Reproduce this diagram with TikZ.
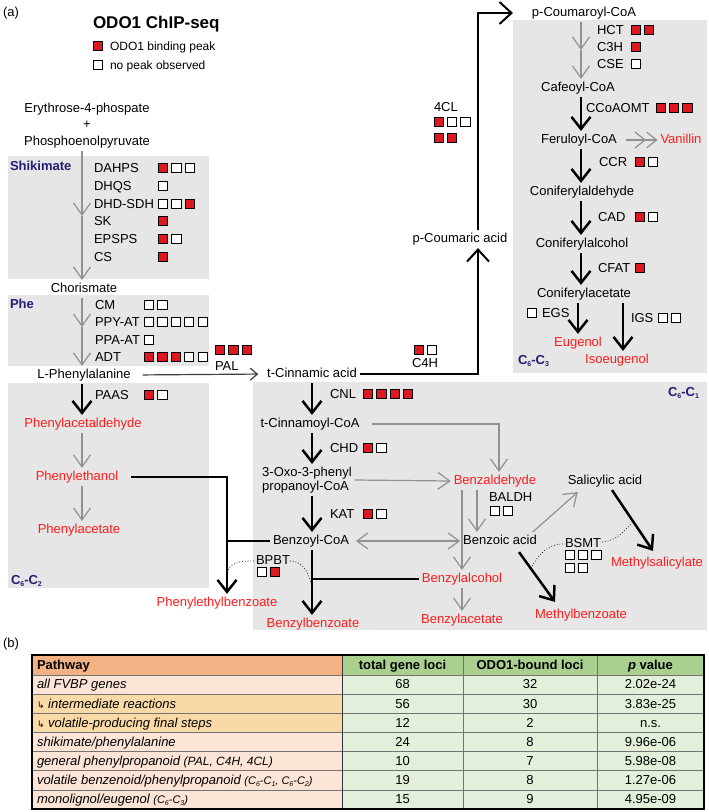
\documentclass[tikz,border=0pt]{standalone}
\usepackage{fontspec}
\setmainfont{Liberation Sans}
\newfontfamily\symfnt{DejaVu Sans}
\usetikzlibrary{arrows.meta,calc}
\definecolor{boxgray}{RGB}{230,230,230}
\definecolor{arrgray}{RGB}{145,145,145}
\definecolor{vred}{RGB}{255,28,28}
\definecolor{navy}{RGB}{35,31,115}
\definecolor{rr}{RGB}{222,24,32}
\definecolor{ww}{RGB}{255,255,255}
\definecolor{hdrorange}{RGB}{243,178,132}
\definecolor{peach}{RGB}{252,228,214}
\definecolor{tanrow}{RGB}{249,218,166}
\definecolor{hdrgreen}{RGB}{169,208,142}
\definecolor{lgreen}{RGB}{226,239,218}
\newcommand\sbs[1]{\raisebox{-0.3ex}{\fontsize{7}{8}\selectfont #1}}
\newcommand\sqrow[3]{\foreach \sqc [count=\sqk from 0] in {#3}{\filldraw[fill=\sqc, draw=black, line width=0.9pt] ({#1+\sqk*13.4-4.6},{#2-4.6}) rectangle +(9.2,9.2);}}
\tikzset{
  tx/.style={font=\fontsize{13}{15}\selectfont, inner sep=0pt, outer sep=0pt, text height=9.4pt, text depth=2.8pt},
  met/.style={tx, outer sep=3pt},
  redmet/.style={met, text=vred},
  enz/.style={tx, anchor=west},
  cat/.style={tx, font=\fontsize{13}{15}\selectfont\bfseries, text=navy, anchor=west},
  grayarr/.style={draw=arrgray, line width=1.2pt, -{Straight Barb[length=12pt,width=17pt]}},
  grayboth/.style={draw=arrgray, line width=1.2pt, {Straight Barb[length=11pt,width=16pt]}-{Straight Barb[length=11pt,width=16pt]}},
  vanarr/.style={draw=arrgray, line width=1.2pt, -{Straight Barb[length=10pt,width=16pt]Straight Barb[length=10pt,width=16pt]}},
  palarr/.style={draw=black!75, line width=1.2pt, -{Straight Barb[length=7pt,width=12pt]}},
  blkarr/.style={draw=black, line width=2.5pt, -{Straight Barb[length=12pt,width=19pt]}},
  blkline/.style={draw=black, line width=2.5pt},
  medarr/.style={draw=black, line width=2pt, -{Straight Barb[length=12pt,width=22pt]}},
  dotcurve/.style={draw=black!85, line width=0.8pt, dotted},
  tline/.style={draw=black!55, line width=0.7pt},
  tvline/.style={draw=black!80, line width=0.9pt},
  tborder/.style={draw=black, line width=1.1pt},
  th/.style={tx, font=\fontsize{13}{15}\selectfont\bfseries},
}
\begin{document}
\begin{tikzpicture}[x=1pt,y=-1pt]
\useasboundingbox (0,0) rectangle (709,812);
\fill[white] (0,0) rectangle (709,812);
% ---------- gray boxes
\fill[boxgray] (8,156) rectangle (209,279);
\fill[boxgray] (8,295) rectangle (209,366);
\fill[boxgray] (8,383) rectangle (209,588);
\fill[boxgray] (513,20) rectangle (707,373);
\fill[boxgray] (253,382) rectangle (707,630);
% ---------- legend
\node[tx,anchor=west] (alab) at (3,13) {(a)};
\node[tx,anchor=west,font=\fontsize{17}{20}\selectfont\bfseries,text height=12.3pt,text depth=3.6pt] (title) at (93,24) {ODO1 ChIP-seq};
\sqrow{97.6}{46}{rr}
\node[tx,anchor=west,font=\fontsize{12}{14}\selectfont] (lg1) at (110,47) {ODO1 binding peak};
\sqrow{97.6}{65}{ww}
\node[tx,anchor=west,font=\fontsize{12}{14}\selectfont] (lg2) at (110,66) {no peak observed};
% ---------- shikimate
\node[met] (e4p) at (87,109) {Erythrose-4-phospate};
\node[tx] (plus) at (87,125) {+};
\node[met] (pep) at (87,142) {Phosphoenolpyruvate};
\node[cat] (shk) at (10,167) {Shikimate};
\node[enz] (dahps) at (94,169) {DAHPS}; \sqrow{163}{168}{rr,ww,ww}
\node[enz] (dhqs) at (94,187) {DHQS}; \sqrow{163}{186}{ww}
\node[enz] (dhd) at (94,205) {DHD-SDH}; \sqrow{163}{204}{ww,ww,rr}
\node[enz] (sk) at (94,222) {SK}; \sqrow{163}{221}{rr}
\node[enz] (epsps) at (94,240) {EPSPS}; \sqrow{163}{239}{rr,ww}
\node[enz] (cs) at (94,258) {CS}; \sqrow{163}{257}{rr}
\node[met] (chor) at (84,289) {Chorismate};
% ---------- phe
\node[cat] (phe) at (10,305) {Phe};
\node[enz] (cm) at (95,306) {CM}; \sqrow{149}{305}{ww,ww}
\node[enz] (ppyat) at (95,323) {PPY-AT}; \sqrow{149}{322}{ww,ww,ww,ww,ww}
\node[enz] (ppaat) at (95,341) {PPA-AT}; \sqrow{149}{340}{ww}
\node[enz] (adt) at (95,358) {ADT}; \sqrow{149}{357}{rr,rr,rr,ww,ww}
\node[met] (lphe) at (84,375) {L-Phenylalanine};
\sqrow{220}{350}{rr,rr,rr}
\node[enz] (pal) at (215,367) {PAL};
\node[met] (tcin) at (312,374) {t-Cinnamic acid};
% ---------- C6-C2
\node[enz] (paas) at (95,396) {PAAS}; \sqrow{149}{395}{rr,ww}
\node[redmet] (pald) at (83,424) {Phenylacetaldehyde};
\node[redmet] (phet) at (77,477) {Phenylethanol};
\node[redmet] (phac) at (79,530) {Phenylacetate};
\node[cat] (c62) at (11,581) {C\sbs{6}-C\sbs{2}};
\node[redmet] (pebz) at (217,603) {Phenylethylbenzoate};
\node[enz] (bpbt) at (256,561) {BPBT}; \sqrow{261.7}{572}{ww,rr}
% ---------- C6-C1
\node[cat] (c61) at (668,393) {C\sbs{6}-C\sbs{1}};
\node[enz] (cnl) at (330,395) {CNL}; \sqrow{368}{394}{rr,rr,rr,rr}
\node[met] (tcoa) at (310,424) {t-Cinnamoyl-CoA};
\node[enz] (chd) at (330,449) {CHD}; \sqrow{368}{448}{rr,ww}
\node[met,align=left,text height=,text depth=,font=\fontsize{13}{14}\selectfont] (oxo) at (307,480) {3-Oxo-3-phenyl\\propanoyl-CoA};
\node[enz] (kat) at (330,515) {KAT}; \sqrow{368}{514}{rr,ww}
\node[met] (bcoa) at (311,541) {Benzoyl-CoA};
\node[redmet] (bbz) at (313,624) {Benzylbenzoate};
\node[redmet] (bald) at (495,481) {Benzaldehyde};
\node[enz] (baldh) at (489,498) {BALDH}; \sqrow{494.7}{511}{ww,ww}
\node[met] (bzac) at (500,541) {Benzoic acid};
\node[redmet] (balc) at (462,579) {Benzylalcohol};
\node[redmet] (bacet) at (462,620) {Benzylacetate};
\node[met] (sal) at (605,481) {Salicylic acid};
\node[redmet] (msal) at (657,563) {Methylsalicylate};
\node[redmet] (mbz) at (581,615) {Methylbenzoate};
\node[enz] (bsmt) at (565,544) {BSMT};
\sqrow{569.7}{555}{ww,ww,ww}
\sqrow{569.7}{568}{ww,ww}
% ---------- general phenylpropanoid
\sqrow{418.7}{350}{rr,ww}
\node[enz] (c4h) at (412,364) {C4H};
\node[met] (pcou) at (460,239) {p-Coumaric acid};
\node[enz] (fcl) at (434,108) {4CL};
\sqrow{438.7}{122}{rr,ww,ww}
\sqrow{438.7}{138}{rr,rr}
\node[met] (pcoa) at (584,13) {p-Coumaroyl-CoA};
% ---------- C6-C3
\node[enz] (hct) at (597,31) {HCT}; \sqrow{635.7}{30}{rr,rr}
\node[enz] (c3h) at (597,48) {C3H}; \sqrow{635.7}{47}{rr}
\node[enz] (cse) at (597,65) {CSE}; \sqrow{635.7}{64}{ww}
\node[met] (cafe) at (578,88) {Cafeoyl-CoA};
\node[enz] (ccoaomt) at (586,109) {CCoAOMT}; \sqrow{660.7}{108}{rr,rr,rr}
\node[met] (ferul) at (579,140) {Feruloyl-CoA};
\node[redmet] (van) at (681,140) {Vanillin};
\node[enz] (ccr) at (599,163) {CCR}; \sqrow{639.7}{162}{rr,ww}
\node[met] (cald) at (582,192) {Coniferylaldehyde};
\node[enz] (cad) at (598,218) {CAD}; \sqrow{639.7}{217}{rr,ww}
\node[met] (calol) at (582,244) {Coniferylalcohol};
\node[enz] (cfat) at (598,269) {CFAT}; \sqrow{639.7}{268}{rr}
\node[met] (cacet) at (584,294) {Coniferylacetate};
\sqrow{531.7}{313}{ww}
\node[enz] (egs) at (542,314) {EGS};
\node[redmet] (eug) at (578,343) {Eugenol};
\node[enz] (igs) at (631,319) {IGS}; \sqrow{662.7}{318}{ww,ww}
\node[redmet] (iso) at (617,360) {Isoeugenol};
\node[cat] (c63) at (518,361) {C\sbs{6}-C\sbs{3}};
% ---------- connectors: shikimate / phe
\coordinate (k1) at (82,216);
\draw[grayarr] (pep.south -| k1) -- (k1);
\draw[grayarr] (k1) -- (k1 |- chor.north);
\coordinate (k2) at (82,327);
\draw[grayarr] (chor.south -| k2) -- (k2);
\draw[grayarr] (k2) -- (k2 |- lphe.north);
\draw[palarr, shorten <=9pt, shorten >=6pt] (lphe.east) -- (tcin.west);
% C6-C2
\draw[blkarr] (lphe.south -| k2) -- (k2 |- pald.north);
\draw[grayarr] (pald.south -| k2) -- (k2 |- phet.north);
\draw[grayarr] (phet.south -| k2) -- (k2 |- phac.north);
\coordinate (jn) at (227,541);
\draw[blkarr, shorten <=10pt] (phet.east) -| (jn |- pebz.north);
\draw[blkline] (bcoa.west) -- (jn);
\coordinate (d1) at (227,572);
\coordinate (d2) at (312,590);
\draw[dotcurve] ($(bpbt.west)+(-2,0)$) to[out=180,in=70] (d1);
\draw[dotcurve] (bpbt.east) to[out=0,in=95] (d2);
% C6-C1 main
\draw[blkarr] (tcin.south) -- (tcin.south |- tcoa.north);
\draw[blkarr] (tcoa.south -| tcin) -- (tcin |- oxo.north);
\draw[blkarr] (oxo.south -| tcin) -- (tcin |- bcoa.north);
\draw[blkarr] (bcoa.south -| tcin) -- (tcin |- bbz.north);
\draw[blkline] (tcin |- balc) -- (balc.west);
\draw[grayarr, shorten <=10pt] (tcoa.east) -| ($(bald.north)+(4,0)$);
\draw[grayarr] (oxo.east) -- (bald.west);
\draw[grayarr] (bald.south -| balc) -- (balc.north);
\coordinate (bx2) at (477,0);
\draw[grayarr] (bald.south -| bx2) -- (bx2 |- bzac.north);
\draw[grayboth, shorten <=4pt] (bcoa.east) -- (bzac.west);
\draw[grayarr] (balc.south) -- (bacet.north);
\draw[grayarr] ($(bzac.north east)+(-7,0)$) -- ($(sal.south west)+(13,2)$);
\draw[blkarr] ($(sal.south)+(7,0)$) -- ($(msal.north)+(-4,-3)$);
\draw[blkarr] ($(bzac.south)+(19,2)$) -- ($(mbz.north)+(-26,-4)$);
\coordinate (d3) at (531,568);
\coordinate (d4) at (633,522);
\draw[dotcurve] ($(bsmt.west)+(-2,0)$) to[out=180,in=60] (d3);
\draw[dotcurve] ($(bsmt.east)+(1,-2)$) to[out=5,in=225] (d4);
% general phenylpropanoid
\coordinate (c4x) at (478,0);
\draw[medarr] (tcin.east) -| (c4x |- pcou.south);
\draw[medarr, shorten >=16pt] (c4x |- pcou.north) |- (pcoa.west);
% C6-C3
\coordinate (r1) at (581,50);
\draw[grayarr] (pcoa.south -| r1) -- (r1);
\draw[grayarr] (r1) -- (r1 |- cafe.north);
\draw[blkarr] (cafe.south -| r1) -- (r1 |- ferul.north);
\draw[vanarr, shorten <=6pt] (ferul.east) -- (van.west);
\draw[blkarr] (ferul.south -| r1) -- (r1 |- cald.north);
\draw[blkarr] (cald.south -| r1) -- (r1 |- calol.north);
\draw[blkarr] (calol.south -| r1) -- (r1 |- cacet.north);
\draw[blkarr] (cacet.south -| eug) -- (eug.north);
\coordinate (igx) at (623,0);
\draw[blkarr] (cacet.south -| igx) -- (igx |- iso.north);
% ---------- table (b)
\node[tx,anchor=west] (blab) at (3,644) {(b)};
\fill[hdrorange] (32,655) rectangle (342,675);
\fill[peach] (32,675) rectangle (342,694.14);
\fill[tanrow] (32,694.14) rectangle (342,732.43);
\fill[peach] (32,732.43) rectangle (342,809);
\fill[hdrgreen] (342,655) rectangle (704,675);
\fill[lgreen] (342,675) rectangle (704,809);
\foreach \yy in {675,694.14,713.29,732.43,751.57,770.71,789.86}
  \draw[tline] (32,\yy) -- (704,\yy);
\draw[tline] (463,655) -- (463,809);
\draw[tline] (597,655) -- (597,809);
\draw[tvline] (342,655) -- (342,809);
\draw[tborder] (32,655) rectangle (704,809);
\node[th,anchor=west] (th1) at (37,666) {Pathway};
\node[th] (th2) at (402.5,666) {total gene loci};
\node[th] (th3) at (530,666) {ODO1-bound loci};
\node[th] (th4) at (650.5,666) {{\itshape p} value};
\node[tx,anchor=west] (p1) at (37,685.6) {\itshape all FVBP genes};
\node[tx,anchor=west] (p2) at (37,704.7) {{\symfnt\fontsize{9}{10}\selectfont ↳}\ \itshape intermediate reactions};
\node[tx,anchor=west] (p3) at (37,723.9) {{\symfnt\fontsize{9}{10}\selectfont ↳}\ \itshape volatile-producing final steps};
\node[tx,anchor=west] (p4) at (37,743) {\itshape shikimate/phenylalanine};
\node[tx,anchor=west] (p5) at (37,762.1) {\itshape general phenylpropanoid {\fontsize{12}{14}\selectfont (PAL, C4H, 4CL)}};
\node[tx,anchor=west] (p6) at (37,781.3) {\itshape volatile benzenoid/phenylpropanoid {\fontsize{11}{13}\selectfont (C\sbs{6}-C\sbs{1}, C\sbs{6}-C\sbs{2})}};
\node[tx,anchor=west] (p7) at (37,800.4) {\itshape monolignol/eugenol {\fontsize{11}{13}\selectfont (C\sbs{6}-C\sbs{3})}};
\foreach \yy/\aa/\bb/\pp [count=\ri] in {685.6/68/32/2.02e-24, 704.7/56/30/3.83e-25, 723.9/12/2/n.s., 743/24/8/9.96e-06, 762.1/10/7/5.98e-08, 781.3/19/8/1.27e-06, 800.4/15/9/4.95e-09}{
  \node[tx] (tot\ri) at (402.5,\yy) {\aa};
  \node[tx] (bnd\ri) at (530,\yy) {\bb};
  \node[tx] (pv\ri) at (650.5,\yy) {\pp};
}
\end{tikzpicture}
\end{document}
